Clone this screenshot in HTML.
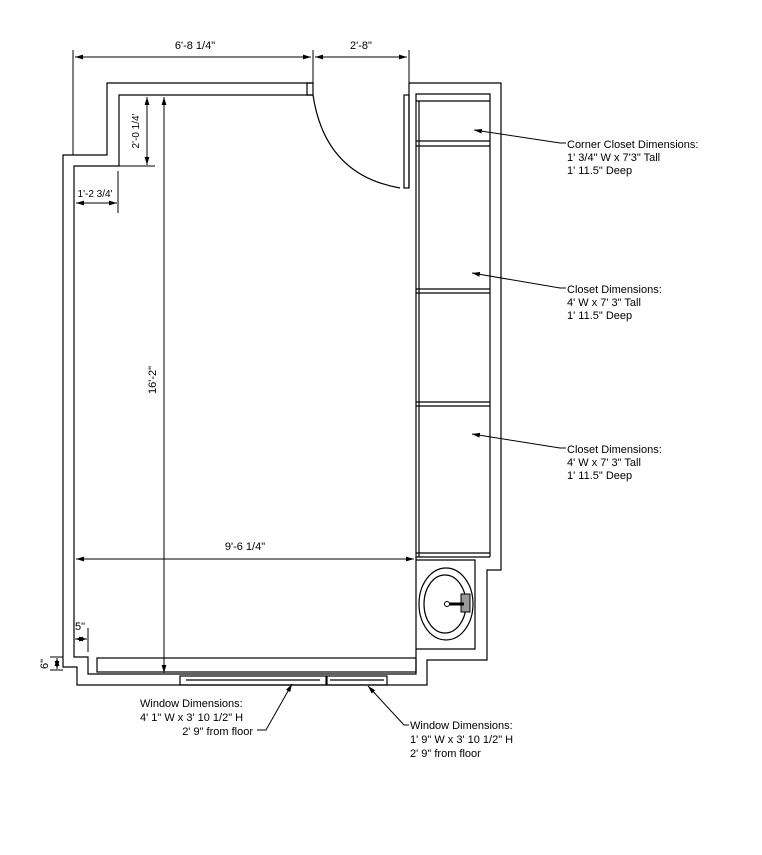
<!DOCTYPE html>
<html><head><meta charset="utf-8"><style>
html,body{margin:0;padding:0;background:#fff;}
svg{display:block;}
text{font-family:"Liberation Sans",Arial,sans-serif;font-size:11px;fill:#000;}
</style></head><body>
<svg width="762" height="855" viewBox="0 0 762 855" xmlns="http://www.w3.org/2000/svg">
<defs>
<marker id="a" viewBox="0 0 10 6" refX="10" refY="3" markerWidth="8" markerHeight="5" orient="auto-start-reverse" markerUnits="userSpaceOnUse"><path d="M0,0 L10,3 L0,6 z" fill="#000"/></marker>
</defs>
<g fill="none" stroke="#000" stroke-width="1.2">
<!-- outer wall -->
<polyline points="313,83 107,83 107,155 63,155 63,667 77,667 77,685 427,685 427,660 487,660 487,570 501,570 501,83 409,83 409,188"/>
<!-- inner wall -->
<polyline points="313,95 119,95 119,166 74,166 74,657 88,657 88,674 416,674 416,94 490,94 490,557"/>
<rect x="307" y="83" width="6" height="12"/>
<rect x="404" y="95" width="5" height="93"/>
<path d="M313,95 Q325,175 400,188" />
<!-- closet -->
<line x1="419" y1="101" x2="419" y2="557"/>
<line x1="416" y1="101" x2="490" y2="101"/>
<line x1="416" y1="141" x2="490" y2="141"/><line x1="416" y1="146" x2="490" y2="146"/>
<line x1="416" y1="289" x2="490" y2="289"/><line x1="416" y1="293" x2="490" y2="293"/>
<line x1="416" y1="402" x2="490" y2="402"/><line x1="416" y1="406" x2="490" y2="406"/>
<line x1="416" y1="553" x2="490" y2="553"/><line x1="416" y1="557" x2="490" y2="557"/>
<!-- sink area -->
<polyline points="416,560 475,560 475,649 416,649"/>
<ellipse cx="446" cy="604" rx="27" ry="36"/>
<ellipse cx="445" cy="604" rx="21" ry="29"/>
<!-- bench -->
<rect x="97" y="658" width="319" height="14"/>
<!-- windows -->
<rect x="180" y="676" width="146" height="9"/>
<line x1="186" y1="680" x2="320" y2="680"/>
<rect x="327" y="676" width="60" height="9"/>
<line x1="330" y1="680" x2="384" y2="680"/>
</g>
<rect x="461" y="594" width="9" height="18" fill="#999" stroke="#000"/>
<line x1="448" y1="604" x2="464" y2="604" stroke="#000" stroke-width="3"/>
<circle cx="447" cy="604" r="2.5" fill="#fff" stroke="#000"/>
<!-- dimensions -->
<g stroke="#000" stroke-width="1" fill="none">
<line x1="73" y1="50" x2="73" y2="155"/><line x1="313" y1="50" x2="313" y2="85"/><line x1="409" y1="50" x2="409" y2="83"/>
<line x1="75" y1="57" x2="311" y2="57" marker-start="url(#a)" marker-end="url(#a)"/>
<line x1="315" y1="57" x2="407" y2="57" marker-start="url(#a)" marker-end="url(#a)"/>
<line x1="164" y1="97" x2="164" y2="673" marker-start="url(#a)" marker-end="url(#a)"/>
<line x1="147" y1="97" x2="147" y2="165" marker-start="url(#a)" marker-end="url(#a)"/>
<line x1="119" y1="166" x2="155" y2="166"/>
<line x1="118" y1="171" x2="118" y2="213"/>
<line x1="76" y1="203" x2="117" y2="203" marker-start="url(#a)" marker-end="url(#a)"/>
<line x1="76" y1="559" x2="414" y2="559" marker-start="url(#a)" marker-end="url(#a)"/>
<line x1="88" y1="628" x2="88" y2="652"/>
<line x1="75" y1="639" x2="87" y2="639" marker-start="url(#a)" marker-end="url(#a)"/>
<line x1="50" y1="657" x2="63" y2="657"/><line x1="50" y1="670" x2="63" y2="670"/>
<line x1="57" y1="658" x2="57" y2="669" marker-start="url(#a)" marker-end="url(#a)"/>
<!-- leaders -->
<polyline points="566,143 560,143 474,130" marker-end="url(#a)"/>
<polyline points="566,288 560,288 472,273" marker-end="url(#a)"/>
<polyline points="566,448 560,448 472,434" marker-end="url(#a)"/>
<polyline points="257,730 266,730 292,684" marker-end="url(#a)"/>
<polyline points="409,725 404,725 368,686" marker-end="url(#a)"/>
</g>
<text x="195" y="49" text-anchor="middle">6'-8 1/4"</text>
<text x="361" y="49" text-anchor="middle">2'-8"</text>
<text x="245" y="550" text-anchor="middle">9'-6 1/4"</text>
<text x="95" y="197" text-anchor="middle" style="font-size:10px">1'-2 3/4'</text>
<text x="80" y="630" text-anchor="middle">5"</text>
<text transform="translate(156,380) rotate(-90)" text-anchor="middle">16'-2"</text>
<text transform="translate(139,131) rotate(-90)" text-anchor="middle" style="font-size:10px">2'-0 1/4'</text>
<text transform="translate(48,664) rotate(-90)" text-anchor="middle">6"</text>
<text x="567" y="148">Corner Closet Dimensions:</text>
<text x="567" y="161">1' 3/4" W x 7'3" Tall</text>
<text x="567" y="174">1' 11.5" Deep</text>
<text x="567" y="293">Closet Dimensions:</text>
<text x="567" y="306">4' W x 7' 3" Tall</text>
<text x="567" y="319">1' 11.5" Deep</text>
<text x="567" y="453">Closet Dimensions:</text>
<text x="567" y="466">4' W x 7' 3" Tall</text>
<text x="567" y="479">1' 11.5" Deep</text>
<text x="140" y="707">Window Dimensions:</text>
<text x="140" y="721">4' 1" W x 3' 10 1/2" H</text>
<text x="253" y="735" text-anchor="end">2' 9"  from floor</text>
<text x="410" y="729">Window Dimensions:</text>
<text x="410" y="743">1' 9" W x 3' 10 1/2" H</text>
<text x="410" y="757">2' 9"  from floor</text>
</svg>
</body></html>
